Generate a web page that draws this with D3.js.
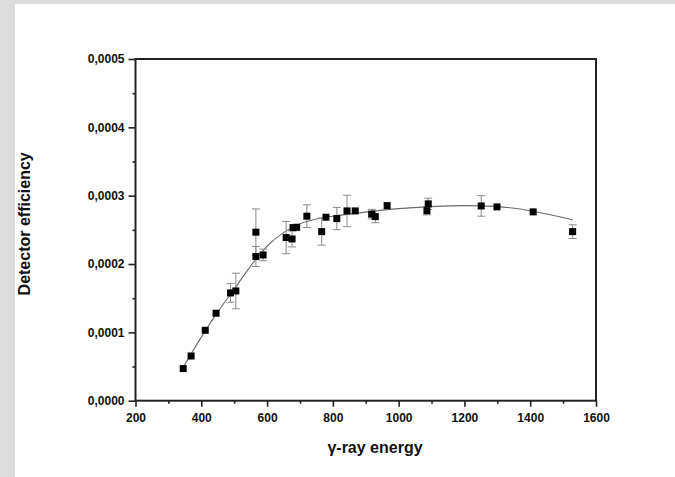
<!DOCTYPE html>
<html>
<head>
<meta charset="utf-8">
<script src="https://cdn.jsdelivr.net/npm/d3@7"></script>
<style>
  html, body { margin: 0; padding: 0; background: #dcdcdc; }
  svg { display: block; }
</style>
</head>
<body>
<svg id="chart" width="675" height="477"></svg>
<script>
// ---- data ----
const energy = [345, 369, 412, 445, 489, 505, 566, 566, 588, 658, 676, 679, 690, 721,
                766, 779, 812, 843, 868, 918, 929, 965, 1086, 1090, 1251, 1299, 1409, 1529];
const efficiency = [0.0000470, 0.0000654, 0.0001030, 0.0001280, 0.0001577, 0.0001606,
                    0.0002110, 0.0002466, 0.0002133, 0.0002387, 0.0002367, 0.0002533,
                    0.0002538, 0.0002700, 0.0002474, 0.0002685, 0.0002665, 0.0002777,
                    0.0002777, 0.0002730, 0.0002694, 0.0002855, 0.0002780, 0.0002880,
                    0.0002850, 0.0002836, 0.0002763, 0.0002474];
const errors = [0, 0, 0, 0, 0.0000137, 0.0000260, 0.0000146, 0.0000340, 0.0000085,
                0.0000236, 0.0000117, 0, 0, 0.0000166, 0.0000198, 0, 0.0000163,
                0.0000230, 0, 0.0000070, 0.0000090, 0, 0.0000060, 0.0000083,
                0.0000150, 0, 0, 0.0000100];
// fitted curve
const fitEnergy = [345, 400, 450, 500, 550, 600, 650, 700, 750, 800, 900, 1000, 1100, 1200, 1300, 1400, 1530];
const fitEfficiency = [0.0000490, 0.0000930, 0.0001300, 0.0001630, 0.0001970, 0.0002260,
                       0.0002460, 0.0002590, 0.0002660, 0.0002700, 0.0002760, 0.0002810,
                       0.0002840, 0.0002855, 0.0002840, 0.0002780, 0.0002645];
const xTicks = [200, 400, 600, 800, 1000, 1200, 1400, 1600];
const yTicks = [0, 0.0001, 0.0002, 0.0003, 0.0004, 0.0005];
const xTitle = "\u03b3-ray energy";
const yTitle = "Detector efficiency";

// ---- layout ----
const svg = d3.select("#chart");
svg.append("rect").attr("x", 15).attr("y", 4).attr("width", 660).attr("height", 473).attr("fill", "#fff");

const L = 135.5, R = 596, T = 59, B = 400.7;
const x = d3.scaleLinear().domain([200, 1600]).range([L, R]);
const y = d3.scaleLinear().domain([0, 0.0005]).range([B, T]);
const fmtY = d => d3.format(".4f")(d).replace(".", ",");
const fmtX = d3.format("d");
const font = "'Liberation Sans', Arial, Helvetica, sans-serif";
const axisColor = "#222";

// minor ticks
const xMinor = d3.range(300, 1600, 200);
const yMinor = d3.range(0.00005, 0.0005, 0.0001);

const gxMinor = svg.append("g").attr("transform", `translate(0,${B})`)
  .call(d3.axisBottom(x).tickValues(xMinor).tickSize(3).tickSizeOuter(0).tickFormat(""));
const gyMinor = svg.append("g").attr("transform", `translate(${L},0)`)
  .call(d3.axisLeft(y).tickValues(yMinor).tickSize(3).tickSizeOuter(0).tickFormat(""));

const gx = svg.append("g").attr("transform", `translate(0,${B})`)
  .call(d3.axisBottom(x).tickValues(xTicks).tickSize(6).tickSizeOuter(0).tickPadding(7).tickFormat(fmtX));
const gy = svg.append("g").attr("transform", `translate(${L},0)`)
  .call(d3.axisLeft(y).tickValues(yTicks).tickSize(7).tickSizeOuter(0).tickPadding(4).tickFormat(fmtY));

[gxMinor, gyMinor, gx, gy].forEach(g => {
  g.select(".domain").remove();
  g.selectAll(".tick line").attr("stroke", axisColor).attr("stroke-width", 1.6);
  g.selectAll("text").attr("fill", "#111").attr("font-family", font)
    .attr("font-size", 12).attr("font-weight", "bold");
});

// frame
svg.append("rect").attr("x", L).attr("y", T).attr("width", R - L).attr("height", B - T)
  .attr("fill", "none").attr("stroke", axisColor).attr("stroke-width", 2);

// fit curve
const line = d3.line().x((d, i) => x(fitEnergy[i])).y((d, i) => y(fitEfficiency[i])).curve(d3.curveMonotoneX);
svg.append("path").datum(fitEfficiency).attr("d", line)
  .attr("fill", "none").attr("stroke", "#6a6a6a").attr("stroke-width", 1.1);

// error bars
const eb = svg.append("g").attr("stroke", "#8a8a8a").attr("stroke-width", 1);
energy.forEach((e, i) => {
  const err = errors[i];
  if (!err) return;
  const cx = x(e), y1 = y(efficiency[i] + err), y2 = y(efficiency[i] - err);
  eb.append("line").attr("x1", cx).attr("x2", cx).attr("y1", y1).attr("y2", y2);
  eb.append("line").attr("x1", cx - 4).attr("x2", cx + 4).attr("y1", y1).attr("y2", y1);
  eb.append("line").attr("x1", cx - 4).attr("x2", cx + 4).attr("y1", y2).attr("y2", y2);
});

// markers
const s = 7;
svg.append("g").selectAll("rect").data(energy).join("rect")
  .attr("x", d => x(d) - s / 2)
  .attr("y", (d, i) => y(efficiency[i]) - s / 2)
  .attr("width", s).attr("height", s).attr("fill", "#000");

// titles
svg.append("text").attr("x", 375).attr("y", 453).attr("text-anchor", "middle")
  .attr("font-family", font).attr("font-size", 16).attr("font-weight", "bold").attr("fill", "#111")
  .text(xTitle);
svg.append("text").attr("transform", `translate(30,${(T + B) / 2 - 6}) rotate(-90)`).attr("text-anchor", "middle")
  .attr("font-family", font).attr("font-size", 16).attr("font-weight", "bold").attr("fill", "#111")
  .text(yTitle);
</script>
</body>
</html>
